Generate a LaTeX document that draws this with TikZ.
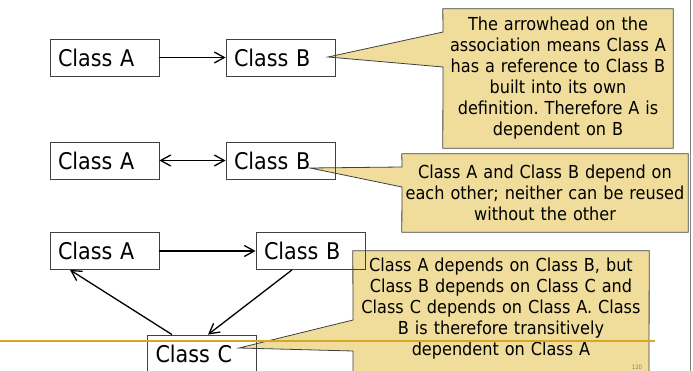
\documentclass[tikz,border=0pt]{standalone}
\usepackage{fontspec}
\setmainfont{DejaVu Sans Condensed}
\usepackage{tikz}
\usetikzlibrary{arrows.meta, positioning, backgrounds}

\definecolor{notefill}{RGB}{240,221,155}
\definecolor{edgegray}{RGB}{64,64,64}
\definecolor{goldline}{RGB}{212,168,36}
\frenchspacing

\begin{document}
\begin{tikzpicture}[
    x=1pt, y=-1pt,
    cls/.style={draw=edgegray, line width=0.8pt, minimum height=37pt, text width=93pt,
                inner xsep=8pt, inner ysep=0pt, align=left, font=\fontsize{23}{27}\selectfont},
    note/.style={inner sep=0pt, align=center, font=\fontsize{17.9}{21}\selectfont},
    noteshape/.style={draw=edgegray, line width=0.8pt, fill=notefill},
    arr/.style={-{Straight Barb[length=10pt, width=11pt, line width=1.3pt]}, line width=1.3pt},
    biarr/.style={{Straight Barb[length=10pt, width=11pt, line width=1.3pt]}-{Straight Barb[length=10pt, width=11pt, line width=1.3pt]}, line width=1.3pt}
]
    \useasboundingbox (0,0) rectangle (693,371);

    % Callouts
    \node[note, text width=230pt, minimum height=139pt] (note1) at (558,78.5)
        {The arrowhead on the\\association means Class A\\has a reference to Class B\\built into its own\\definition. Therefore A is\\dependent on B};
    \node[note, text width=286pt, minimum height=78pt] (note2) at (545,193)
        {Class A and Class B depend on\\each other; neither can be reused\\without the other};
    \node[note, text width=296pt, minimum height=116pt] (note3) at (501,309)
        {Class A depends on Class B, but\\Class B depends on Class C and\\Class C depends on Class A. Class\\B is therefore transitively\\dependent on Class A};

    \coordinate (tip1) at (328,57);
    \coordinate (tip2) at (310,168);
    \coordinate (tip3) at (239,348);

    \begin{scope}[on background layer]
        \draw[noteshape] (note1.north west) -- (note1.north east) -- (note1.south east)
            -- (note1.south west) -- (443,67) -- (tip1) -- (443,32) -- cycle;
        \draw[noteshape] (note2.north west) -- (note2.north east) -- (note2.south east)
            -- (note2.south west) -- (402,187) -- (tip2) -- (402,167) -- cycle;
        \draw[noteshape] (note3.north west) -- (note3.north east) -- (649,385)
            -- (353,385) -- (353,351) -- (tip3) -- (353,320) -- cycle;
    \end{scope}

    % Row 1
    \node[cls] (a1) at (104.5,57.5) {Class A};
    \node[cls] (b1) at (280.5,57.5) {Class B};
    \draw[arr] (a1) -- (b1);

    % Row 2
    \node[cls] (a2) at (104.5,160.5) {Class A};
    \node[cls] (b2) at (280.5,160.5) {Class B};
    \draw[biarr] (a2) -- (b2);

    % Row 3
    \node[cls] (a3) at (104.5,251) {Class A};
    \node[cls] (b3) at (310.5,251) {Class B};
    \node[cls] (c3) at (202,353.5) {Class C};
    \draw[arr] (a3) -- (b3);
    \draw[arr] ([xshift=-18.5pt]b3.south) -- ([xshift=6pt]c3.north);
    \draw[arr] ([xshift=-30pt]c3.north) -- ([xshift=-34.5pt]a3.south);

    % Slide frame
    \draw[goldline, line width=1.2pt] (0,341) -- (655,341);
    \draw[gray, line width=0.8pt] (690,0) -- (690,371);
    \node[gray, font=\fontsize{6}{6}\selectfont, anchor=south, inner sep=0.5pt] (pagenum) at (637,370.5) {120};
\end{tikzpicture}
\end{document}
